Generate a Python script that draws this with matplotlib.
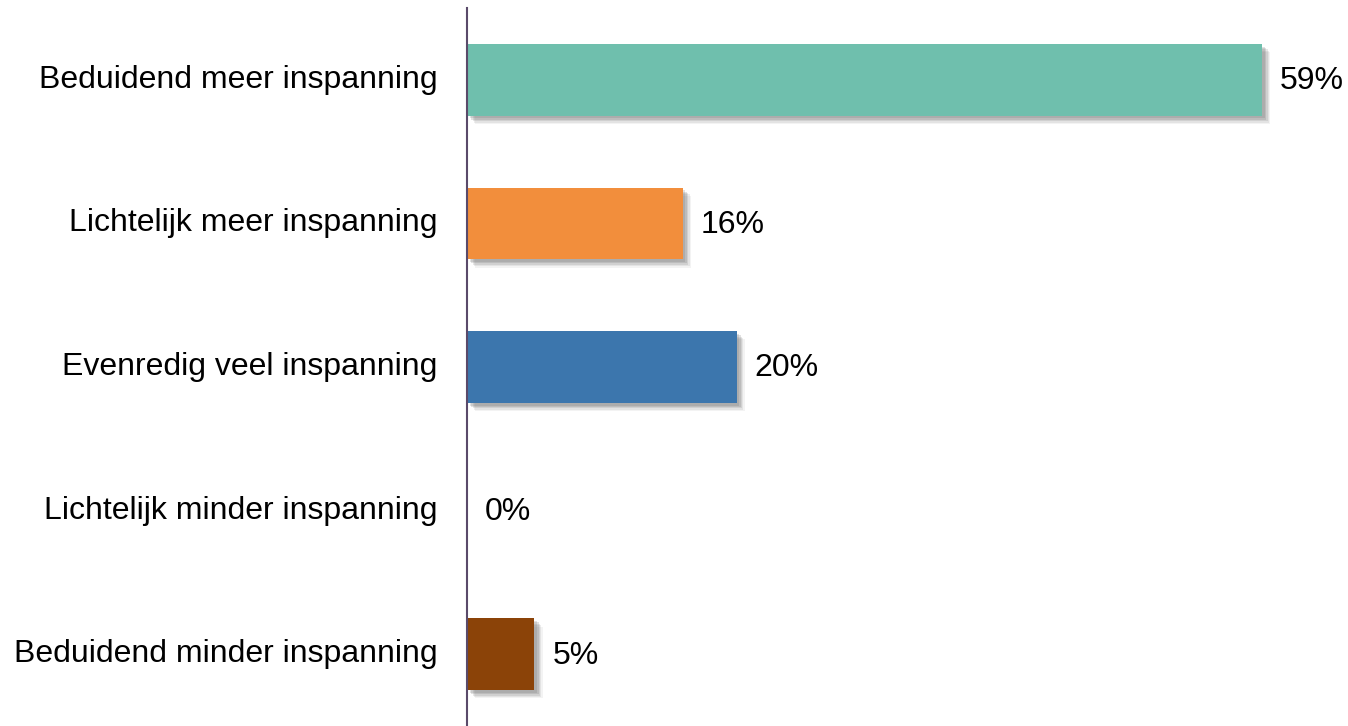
import matplotlib
matplotlib.use("Agg")
import matplotlib.pyplot as plt
import matplotlib.patheffects as pe

categories = ["Beduidend meer inspanning", "Lichtelijk meer inspanning",
              "Evenredig veel inspanning", "Lichtelijk minder inspanning",
              "Beduidend minder inspanning"]
values = [59, 16, 20, 0, 5]
colors = ["#6fbfad", "#f28e3c", "#3c76ad", "#7f7f7f", "#8b4308"]

plt.rcParams['font.family'] = ['Liberation Sans', 'DejaVu Sans']

fig = plt.figure(figsize=(13.48, 7.26), dpi=100)
ax = fig.add_axes([467/1348, 0, 876/1348, 1 - 8/726])

# blurred-ish drop shadow: a few stacked offsets
shadow = [pe.SimplePatchShadow(offset=(o, -o), shadow_rgbFace="#707070", alpha=a)
          for o, a in [(6, 0.08), (5, 0.12), (4, 0.16), (3, 0.2), (2, 0.2)]] + [pe.Normal()]

ypos = list(range(len(categories)))
bars = ax.barh(ypos, values, height=0.5, color=colors, zorder=2)
for b, v in zip(bars, values):
    if v > 0:
        b.set_path_effects(shadow)
    ax.annotate(f"{v}%", (v, b.get_y() + b.get_height() / 2),
                xytext=(13, -1), textcoords="offset points",
                va="center", ha="left", fontsize=23)

ax.set_xlim(0, 65)
ax.set_ylim(4.5, -0.5)
ax.set_yticks(ypos)
ax.set_yticklabels(categories, fontsize=23, va="center")
ax.tick_params(axis="y", length=0, pad=21)
ax.set_xticks([])
for s in ["top", "right", "bottom"]:
    ax.spines[s].set_visible(False)
ax.spines["left"].set_color("#5a4a6a")
ax.spines["left"].set_linewidth(1.5)
ax.spines["left"].set_zorder(3)

fig.savefig("out.png", dpi=100)
